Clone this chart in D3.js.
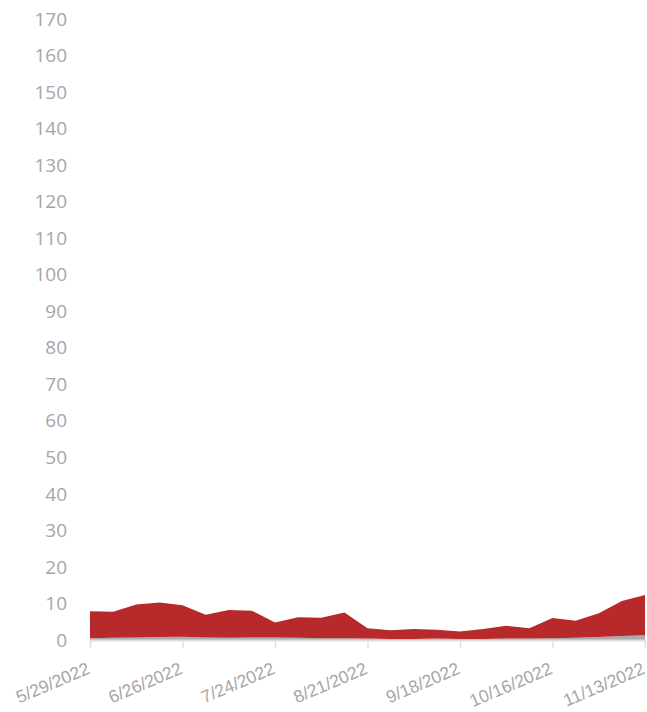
<!DOCTYPE html>
<html><head><meta charset="utf-8">
<script src="https://cdn.jsdelivr.net/npm/d3@7"></script>
<style>body{margin:0;background:#fff;}svg{display:block;font-family:"Open Sans","Noto Sans",sans-serif;}</style>
</head><body><svg id="c" width="647" height="712"></svg>
<script>
const dates = ["2022-05-29","2022-06-05","2022-06-12","2022-06-19","2022-06-26","2022-07-03","2022-07-10","2022-07-17","2022-07-24","2022-07-31","2022-08-07","2022-08-14","2022-08-21","2022-08-28","2022-09-04","2022-09-11","2022-09-18","2022-09-25","2022-10-02","2022-10-09","2022-10-16","2022-10-23","2022-10-30","2022-11-06","2022-11-13"];
const grayValues = [0.5,0.6,0.7,0.8,0.9,0.7,0.6,0.7,0.7,0.6,0.5,0.5,0.4,0.3,0.3,0.4,0.3,0.3,0.4,0.4,0.5,0.6,0.8,1.1,1.3];
const redValues = [7.4,7.1,9.0,9.5,8.6,6.2,7.6,7.3,4.1,5.6,5.6,7.0,2.8,2.4,2.7,2.4,2.0,2.7,3.5,2.8,5.5,4.7,6.5,9.6,11.0];
const yTicks = [0,10,20,30,40,50,60,70,80,90,100,110,120,130,140,150,160,170];
const xTickLabels = ["5/29/2022","6/26/2022","7/24/2022","8/21/2022","9/18/2022","10/16/2022","11/13/2022"];

const parse = d3.timeParse("%Y-%m-%d");
const data = dates.map((d,i)=>({date:parse(d), gray:grayValues[i], red:redValues[i]}));
const svg = d3.select("#c");
const x = d3.scaleTime().domain([data[0].date, data[data.length-1].date]).range([90,645]);
const y = d3.scaleLinear().domain([0,170]).range([640,19]);

const stack = d3.stack().keys(["gray","red"]);
const series = stack(data);
const colors = {gray:"#ababab", red:"#b8292b"};
const area = d3.area().x(d=>x(d.data.date)).y0(d=>y(d[0])).y1(d=>y(d[1])).curve(d3.curveLinear);
svg.selectAll("path.s").data(series).join("path").attr("class","s")
  .attr("d",area).attr("fill",d=>colors[d.key]);

// y axis labels
svg.append("g").selectAll("text").data(yTicks).join("text")
  .attr("x",67).attr("y",d=>y(d)).attr("dy","0.35em").attr("text-anchor","end")
  .attr("font-size",19).attr("fill","#a6a6a6").text(d=>d);

// x axis
const tickDates = xTickLabels.map(s=>d3.timeParse("%m/%d/%Y")(s));
const xAxis = d3.axisBottom(x).tickValues(tickDates).tickFormat((d,i)=>xTickLabels[i]).tickSize(8).tickSizeOuter(0);
const gx = svg.append("g").attr("transform","translate(0,640)").call(xAxis);
gx.select(".domain").attr("stroke","#dedede").attr("stroke-width",2).attr("d","M90,0.5H646");
gx.selectAll(".tick line").attr("stroke","#dedede").attr("stroke-width",1.5);
gx.selectAll(".tick text").attr("fill","#a6a6a6").attr("font-size",17.5)
  .attr("text-anchor","end").attr("dy",null).attr("y",0)
  .attr("transform","translate(0.5,33) rotate(-23)");
</script></body></html>
